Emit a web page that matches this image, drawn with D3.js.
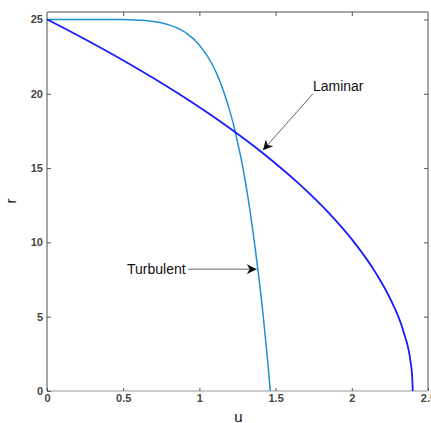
<!DOCTYPE html>
<html>
<head>
<meta charset="utf-8">
<script src="https://cdn.jsdelivr.net/npm/d3@7"></script>
<style>
  body { margin: 0; background: #fff; }
  svg { display: block; }
  text { font-family: Arial, "Liberation Sans", sans-serif; }
</style>
</head>
<body>
<div id="chart"></div>
<script>
// laminar profile (r, u)
var rLaminar = [25, 24, 22, 20, 18, 16, 14, 12, 10, 8, 6, 4, 2, 1, 0];
var uLaminar = [0, 0.188, 0.541, 0.864, 1.156, 1.417, 1.647, 1.847, 2.016, 2.154, 2.262, 2.339, 2.385, 2.396, 2.4];

// turbulent profile (r, u)
var rTurbulent = [25, 24.9999, 24.999, 24.99, 24.95, 24.9, 24.8, 24.6, 24.3, 24, 23.5, 23, 22, 21, 20, 19, 18, 17, 16, 15, 14, 12, 10, 8, 6, 4, 2, 0];
var uTurbulent = [0, 0.25, 0.35, 0.48, 0.6, 0.67, 0.74, 0.81, 0.88, 0.925, 0.98, 1.02, 1.083, 1.128, 1.164, 1.195, 1.222, 1.245, 1.266, 1.286, 1.303, 1.334, 1.361, 1.386, 1.409, 1.429, 1.448, 1.465];

var xTicks = [0, 0.5, 1, 1.5, 2, 2.5];
var yTicks = [0, 5, 10, 15, 20, 25];

var w = 431, h = 423;
var pLeft = 47, pRight = 428, pTop = 12, pBottom = 391;

var svg = d3.select("#chart").append("svg")
	.attr("width", w)
	.attr("height", h);

var x = d3.scaleLinear().domain([0, 2.5]).range([pLeft, pRight]);
var y = d3.scaleLinear().domain([0, 25.5]).range([pBottom, pTop]);

// frame
svg.append("line").attr("x1", pLeft).attr("x2", pRight).attr("y1", pTop).attr("y2", pTop)
	.attr("stroke", "#888").attr("stroke-width", 1.5);
svg.append("line").attr("x1", pRight).attr("x2", pRight).attr("y1", pTop).attr("y2", pBottom)
	.attr("stroke", "#888").attr("stroke-width", 1.5);
svg.append("line").attr("x1", pLeft).attr("x2", pRight).attr("y1", pBottom).attr("y2", pBottom)
	.attr("stroke", "#ccc").attr("stroke-width", 2);
svg.append("line").attr("x1", pLeft).attr("x2", pLeft).attr("y1", pTop).attr("y2", pBottom)
	.attr("stroke", "#888").attr("stroke-width", 1.5);

function styleAxis(g) {
	g.select(".domain").remove();
	g.selectAll(".tick line").attr("stroke", "#555");
	g.selectAll(".tick text")
		.attr("fill", "#444")
		.style("font-size", "11px")
		.style("font-weight", "bold")
		.style("font-family", "Arial, 'Liberation Sans', sans-serif");
}

svg.append("g")
	.attr("transform", "translate(0," + pBottom + ")")
	.call(d3.axisBottom(x).tickValues(xTicks).tickFormat(d3.format("")).tickSizeInner(-3).tickSizeOuter(0).tickPadding(3))
	.call(styleAxis);

svg.append("g")
	.attr("transform", "translate(0," + pTop + ")")
	.call(d3.axisTop(x).tickValues(xTicks.slice(1, -1)).tickFormat("").tickSizeInner(-4).tickSizeOuter(0))
	.call(styleAxis);

svg.append("g")
	.attr("transform", "translate(" + pLeft + ",0)")
	.call(d3.axisLeft(y).tickValues(yTicks).tickSizeInner(-4).tickSizeOuter(0).tickPadding(4))
	.call(styleAxis);

svg.append("g")
	.attr("transform", "translate(" + pRight + ",0)")
	.call(d3.axisRight(y).tickValues(yTicks.slice(1)).tickFormat("").tickSizeInner(-4).tickSizeOuter(0))
	.call(styleAxis);

// axis labels
svg.append("text")
	.attr("x", (pLeft + pRight) / 2 + 1)
	.attr("y", 422)
	.attr("text-anchor", "middle")
	.attr("fill", "#111")
	.style("font-size", "15px")
	.text("u");

svg.append("text")
	.attr("transform", "translate(16,201) rotate(-90)")
	.attr("text-anchor", "middle")
	.attr("fill", "#111")
	.style("font-size", "15px")
	.text("r");

// curves
var line = d3.line()
	.x(function(d){ return x(d[0]); })
	.y(function(d){ return y(d[1]); })
	.curve(d3.curveMonotoneX);

var laminar = uLaminar.map(function(u, i){ return [u, rLaminar[i]]; });
var turbulent = uTurbulent.map(function(u, i){ return [u, rTurbulent[i]]; });

svg.append("path")
	.datum(turbulent)
	.attr("d", line)
	.attr("fill", "none")
	.attr("stroke", "#1f8fd8")
	.attr("stroke-width", 1.5);

svg.append("path")
	.datum(laminar)
	.attr("d", line)
	.attr("fill", "none")
	.attr("stroke", "#1a1aff")
	.attr("stroke-width", 1.8);

// annotations
var defs = svg.append("defs");
defs.append("marker")
	.attr("id", "head")
	.attr("viewBox", "0 0 10 10")
	.attr("refX", 10).attr("refY", 5)
	.attr("markerWidth", 10).attr("markerHeight", 10)
	.attr("markerUnits", "userSpaceOnUse")
	.attr("orient", "auto")
	.append("path")
	.attr("d", "M0,0 L10,5 L0,10 L3,5 Z")
	.attr("fill", "#111");

function arrow(u0, r0, u1, r1) {
	svg.append("line")
		.attr("x1", x(u0)).attr("y1", y(r0))
		.attr("x2", x(u1)).attr("y2", y(r1))
		.attr("stroke", "#666")
		.attr("stroke-width", 1)
		.attr("marker-end", "url(#head)");
}

arrow(1.745, 20.0, 1.417, 16.2);
svg.append("text")
	.attr("x", x(1.745))
	.attr("y", y(20.5) + 5)
	.attr("fill", "#111")
	.style("font-size", "14px")
	.text("Laminar");

arrow(0.925, 8.2, 1.376, 8.2);
svg.append("text")
	.attr("x", x(0.91))
	.attr("y", y(8.2) + 5)
	.attr("text-anchor", "end")
	.attr("fill", "#111")
	.style("font-size", "14px")
	.text("Turbulent");
</script>
</body>
</html>
